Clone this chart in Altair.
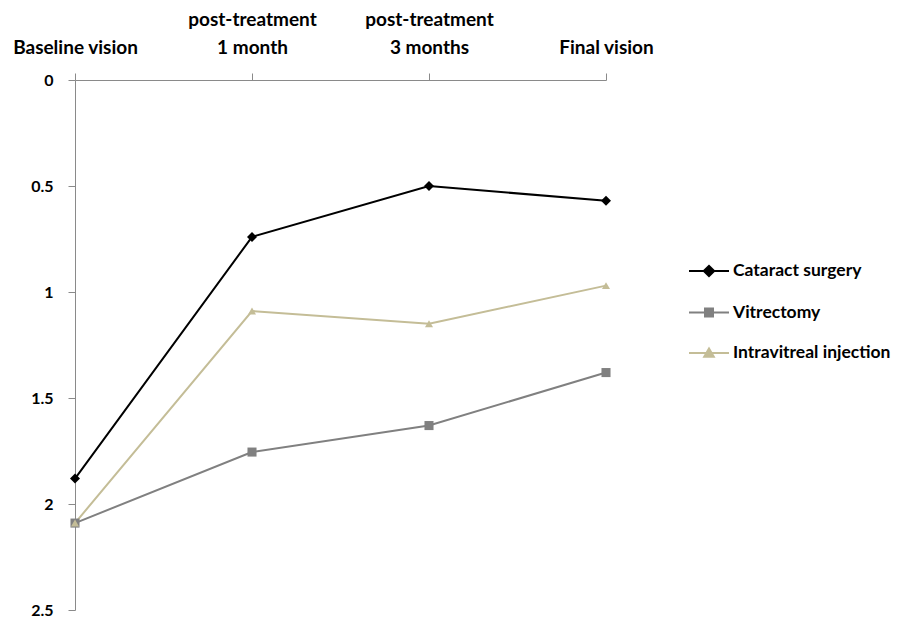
import altair as alt
import pandas as pd

times = ["Baseline vision", "post-treatment\n1 month", "post-treatment\n3 months", "Final vision"]
series = ["Cataract surgery", "Vitrectomy", "Intravitreal injection"]
cataract = [1.88, 0.74, 0.50, 0.57]
vitrectomy = [2.09, 1.755, 1.63, 1.38]
intravitreal = [2.09, 1.09, 1.15, 0.97]
colors = ["#000000", "#808080", "#C4BD97"]
shapes = ["diamond", "square", "triangle-up"]
legend_paths = [
    "M-1,0H1M-0.26,0L0,-0.26L0.26,0L0,0.26Z",
    "M-1,0H1M-0.2,-0.2H0.2V0.2H-0.2Z",
    "M-1,0H1M-0.24,0.19L0,-0.22L0.24,0.19Z",
]
y_ticks = [0, 0.5, 1, 1.5, 2, 2.5]

rows = []
for name, vals in zip(series, [cataract, vitrectomy, intravitreal]):
    for t, v in zip(times, vals):
        rows.append({"time": t, "series": name, "value": v})
df = pd.DataFrame(rows)

FONT = "Lato"

x = alt.X("time:N", sort=times, title=None,
          scale=alt.Scale(type="point", padding=0),
          axis=alt.Axis(orient="top", labelAngle=0,
                        labelExpr="length(split(datum.label, '\\n')) > 1 ? split(datum.label, '\\n') : ['', datum.label]",
                        labelFont=FONT, labelFontSize=19, labelFontWeight="bold",
                        labelColor="#000000", labelPadding=44, labelLineHeight=28,
                        tickSize=7, labelBaseline="bottom", labelOverlap=False))
y = alt.Y("value:Q", title=None,
          scale=alt.Scale(domain=[0, 2.5], reverse=True, nice=False),
          axis=alt.Axis(values=y_ticks, format="~g", labelFont=FONT, labelFontSize=16,
                        labelFontWeight="bold", labelColor="#000000", labelPadding=15,
                        tickSize=7, grid=False))

color_scale = alt.Scale(domain=series, range=colors)

lines = alt.Chart(df).mark_line(strokeWidth=2).encode(
    x=x, y=y,
    color=alt.Color("series:N", scale=color_scale, legend=None),
)
points = alt.Chart(df).mark_point(filled=True, opacity=1).encode(
    x=x, y=y,
    color=alt.Color("series:N", scale=color_scale, legend=None),
    shape=alt.Shape("series:N", scale=alt.Scale(domain=series, range=shapes), legend=None),
    size=alt.Size("series:N", scale=alt.Scale(domain=series, range=[100, 64, 80]), legend=None),
)
leg = alt.Legend(title=None, orient="none", legendX=613, legendY=170, padding=0,
                 symbolSize=1600, symbolStrokeWidth=2, rowPadding=10.5, labelOffset=3,
                 labelFont=FONT, labelFontSize=17.5, labelFontWeight="bold",
                 labelColor="#000000", symbolOpacity=1)
legend_layer = alt.Chart(df).mark_point(filled=True, opacity=1).encode(
    x=x, y=y,
    color=alt.Color("series:N", scale=color_scale, legend=leg, sort=series),
    stroke=alt.Stroke("series:N", scale=color_scale, legend=leg, sort=series),
    shape=alt.Shape("series:N", scale=alt.Scale(domain=series, range=legend_paths), legend=leg, sort=series),
).transform_filter("false")

chart = alt.layer(lines, points, legend_layer).resolve_scale(
    color="independent", shape="independent", stroke="independent"
).properties(
    width=531, height=530,
    autosize=alt.AutoSizeParams(type="none"),
    padding={"left": 67, "top": 72, "right": 305, "bottom": 10},
).configure_view(stroke=None).configure_axis(
    domainColor="#8a8a8a", tickColor="#8a8a8a", domainWidth=1, tickWidth=1
)

chart.save("out.html", embed_options={"renderer": "svg", "actions": False})
